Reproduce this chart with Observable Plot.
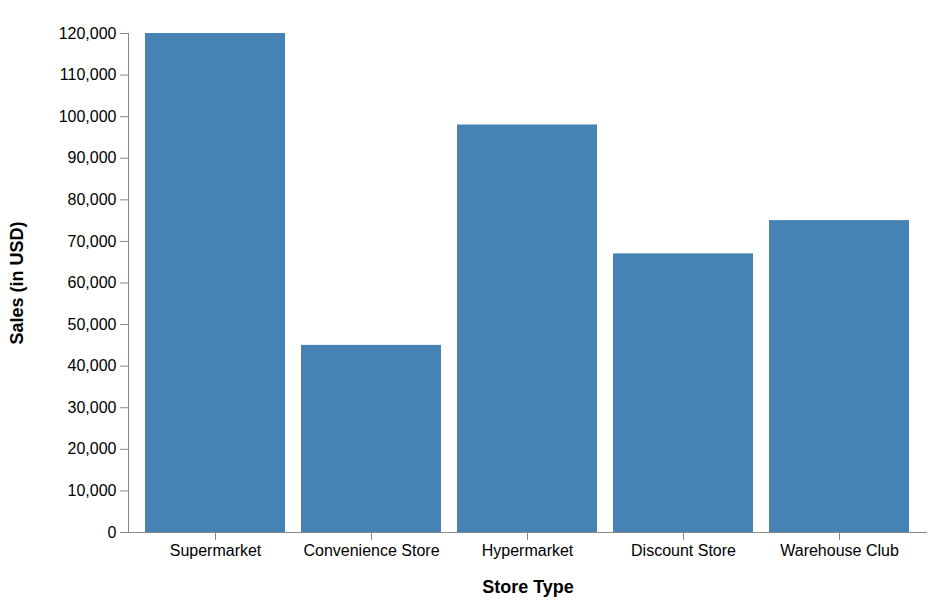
<!DOCTYPE html>
<html>
<head>
<meta charset="utf-8">
<script src="https://cdn.jsdelivr.net/npm/d3@7"></script>
<script src="https://cdn.jsdelivr.net/npm/@observablehq/plot@0.6"></script>
<style>
  body { margin: 0; background: #fff; }
</style>
</head>
<body>
<div id="graph"></div>
<script>
const storeTypes = ["Supermarket", "Convenience Store", "Hypermarket", "Discount Store", "Warehouse Club"];
const sales = [120000, 45000, 98000, 67000, 75000];
const yTicks = d3.range(0, 120001, 10000);

const data = storeTypes.map((s, i) => ({type: s, sales: sales[i]}));

const chart = Plot.plot({
  width: 938,
  height: 606,
  marginLeft: 128,
  marginRight: 11,
  marginTop: 33,
  marginBottom: 74,
  style: {fontFamily: "Liberation Sans, Arial, sans-serif", fontSize: "16px", color: "#000"},
  x: {domain: storeTypes, padding: 0.1},
  y: {domain: [0, 120000]},
  marks: [
    Plot.barY(data, {x: "type", y: "sales", fill: "#4682b4"}),
    Plot.axisX({tickSize: 8, tickPadding: 4, label: "Store Type", labelAnchor: "center", labelArrow: "none", labelOffset: 60, stroke: "#888", fontSize: 16}),
    Plot.axisY({ticks: yTicks, tickSize: 8, tickPadding: 4, tickFormat: d3.format(","), label: "Sales (in USD)", labelAnchor: "center", labelArrow: "none", labelOffset: 118, stroke: "#888", fontSize: 16}),
    Plot.ruleY([0], {stroke: "#888"}),
    Plot.frame({anchor: "left", stroke: "#888"})
  ]
});

d3.select("#graph").append(() => chart);
d3.select(chart).selectAll("g[aria-label='x-axis label'] text, g[aria-label='y-axis label'] text")
  .attr("font-weight", "bold").attr("font-size", "18px");
</script>
</body>
</html>
